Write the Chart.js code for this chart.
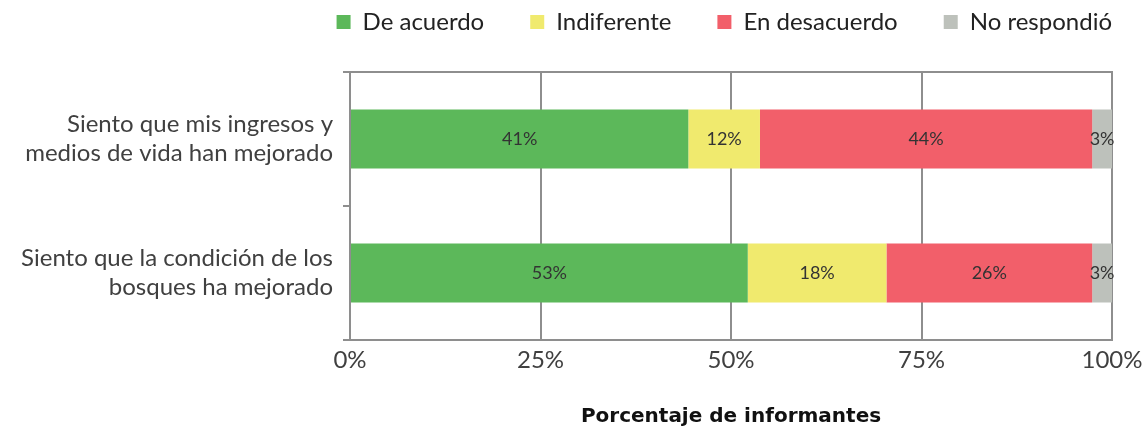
<!DOCTYPE html>
<html>
<head>
<meta charset="utf-8">
<script src="https://cdn.jsdelivr.net/npm/chart.js@4"></script>
<style>
  html, body { margin: 0; padding: 0; background: #fff; }
  #wrap { width: 1145px; height: 430px; }
</style>
</head>
<body>
<div id="wrap"><canvas id="grafico"></canvas></div>
<script>
// Preguntas (eje vertical)
const preguntas = [
  ['Siento que mis ingresos y', 'medios de vida han mejorado'],
  ['Siento que la condición de los', 'bosques ha mejorado']
];

// Ancho de cada tramo (%)
const deAcuerdo = [44.4, 52.2];
const indiferente = [9.4, 18.2];
const enDesacuerdo = [43.6, 27.0];
const noRespondio = [2.6, 2.6];

// Etiquetas que muestra cada tramo
const txtDeAcuerdo = ['41%', '53%'];
const txtIndiferente = ['12%', '18%'];
const txtEnDesacuerdo = ['44%', '26%'];
const txtNoRespondio = ['3%', '3%'];

const ticksX = [0, 25, 50, 75, 100];

const gris = '#8e8e8e';
const fuente = 'Lato, "Open Sans", sans-serif';
const sepLeyenda = 46;

// Escribe el porcentaje en el centro de cada tramo
const etiquetasPlugin = {
  id: 'etiquetas',
  afterDatasetsDraw(chart) {
    const ctx = chart.ctx;
    ctx.save();
    ctx.font = '18px ' + fuente;
    ctx.fillStyle = '#333333';
    ctx.textAlign = 'center';
    ctx.textBaseline = 'middle';
    chart.data.datasets.forEach((ds, i) => {
      const meta = chart.getDatasetMeta(i);
      meta.data.forEach((bar, j) => {
        const cx = (bar.x + bar.base) / 2;
        ctx.fillText(ds.textos[j], cx, bar.y);
      });
    });
    ctx.restore();
  }
};

// Línea superior del marco y posición de la leyenda
const marcoPlugin = {
  id: 'marco',
  beforeInit(chart) {
    const fitOriginal = chart.legend.fit;
    chart.legend.fit = function () {
      fitOriginal.bind(chart.legend)();
      this.height = 108;
    };
  },
  afterLayout(chart) {
    // la leyenda termina donde termina el área del gráfico
    chart.legend.right = chart.chartArea.right + sepLeyenda;
  },
  beforeDatasetsDraw(chart) {
    const a = chart.chartArea;
    const ctx = chart.ctx;
    ctx.save();
    ctx.strokeStyle = gris;
    ctx.lineWidth = 2;
    ctx.beginPath();
    ctx.moveTo(a.left - 7, a.top);
    ctx.lineTo(a.right + 1, a.top);
    ctx.stroke();
    ctx.restore();
  }
};

new Chart(document.getElementById('grafico'), {
  type: 'bar',
  data: {
    labels: preguntas,
    datasets: [
      { label: 'De acuerdo', data: deAcuerdo, textos: txtDeAcuerdo, backgroundColor: '#5cb85a' },
      { label: 'Indiferente', data: indiferente, textos: txtIndiferente, backgroundColor: '#f0ea6e' },
      { label: 'En desacuerdo', data: enDesacuerdo, textos: txtEnDesacuerdo, backgroundColor: '#f25f6a' },
      { label: 'No respondió', data: noRespondio, textos: txtNoRespondio, backgroundColor: '#bdc1bb' }
    ]
  },
  options: {
    indexAxis: 'y',
    responsive: true,
    maintainAspectRatio: false,
    animation: false,
    barPercentage: 0.44,
    categoryPercentage: 1,
    layout: { padding: { left: 0, right: 33, top: -36, bottom: 1 } },
    plugins: {
      legend: {
        position: 'top',
        align: 'end',
        labels: {
          boxWidth: 14,
          boxHeight: 14,
          padding: sepLeyenda,
          color: '#222',
          font: { family: fuente, size: 24 }
        }
      },
      tooltip: { enabled: false }
    },
    scales: {
      x: {
        stacked: true,
        min: 0,
        max: 100,
        afterBuildTicks: scale => { scale.ticks = ticksX.map(v => ({ value: v })); },
        afterFit: scale => {
          scale.height = 89;
          scale.paddingRight = 0;
        },
        ticks: {
          callback: v => v + '%',
          color: '#404040',
          padding: 6,
          font: { family: fuente, size: 24 }
        },
        grid: { color: gris, lineWidth: 2, drawTicks: false },
        border: { color: gris, width: 2 },
        title: {
          display: true,
          text: 'Porcentaje de informantes',
          color: '#111',
          padding: { top: 0, bottom: 0 },
          font: { family: '"DejaVu Sans", sans-serif', size: 20, weight: 'bold' }
        }
      },
      y: {
        stacked: true,
        afterFit: scale => { scale.width = 350; },
        ticks: {
          color: '#404040',
          padding: 10,
          font: { family: fuente, size: 24, lineHeight: 1.2 }
        },
        grid: {
          offset: true,
          lineWidth: 2,
          tickLength: 7,
          tickColor: gris,
          color: c => (c.index === 1 ? 'rgba(0,0,0,0)' : gris)
        },
        border: { color: gris, width: 2 }
      }
    }
  },
  plugins: [etiquetasPlugin, marcoPlugin]
});
</script>
</body>
</html>
